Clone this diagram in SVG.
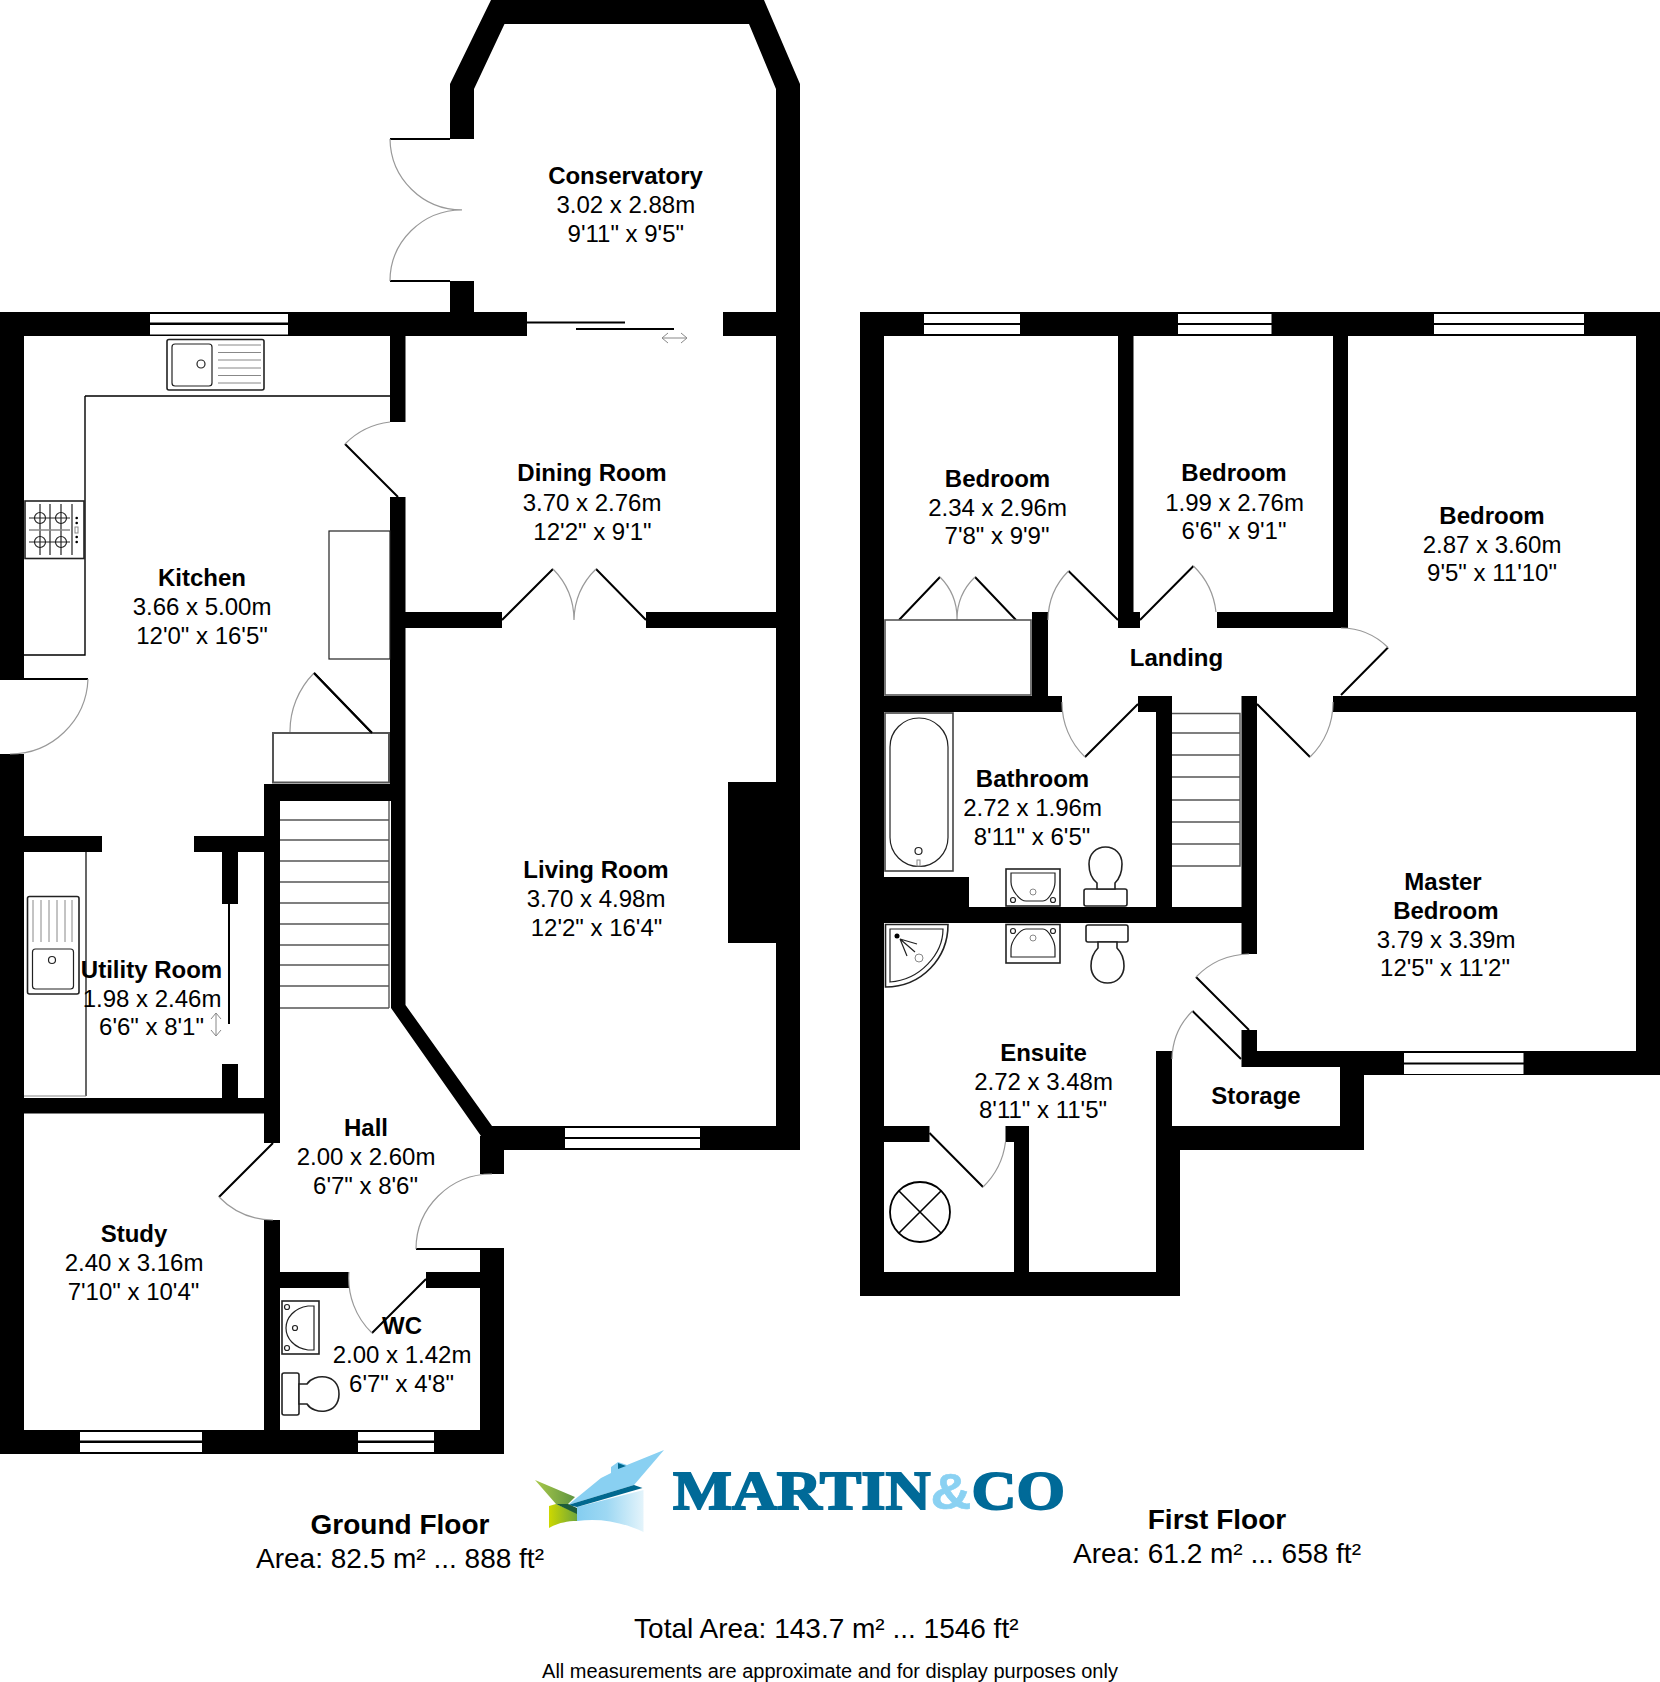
<svg xmlns="http://www.w3.org/2000/svg" width="1660" height="1682" viewBox="0 0 1660 1682">
<defs>
<linearGradient id="lg-blue" x1="0" y1="0" x2="1" y2="0"><stop offset="0" stop-color="#84cdf0"/><stop offset="0.45" stop-color="#9ed8f3"/><stop offset="1" stop-color="#e4f4fb"/></linearGradient>
<linearGradient id="lg-green" x1="0" y1="0" x2="1" y2="0"><stop offset="0" stop-color="#a9c94a"/><stop offset="1" stop-color="#5f9440"/></linearGradient>
<linearGradient id="lg-yellow" x1="0" y1="0" x2="1" y2="0"><stop offset="0" stop-color="#cdd800"/><stop offset="1" stop-color="#6fa63a"/></linearGradient>
</defs>
<style>
text{font-family:"Liberation Sans",Arial,sans-serif;font-size:24px;fill:#000;text-anchor:middle}
.b{font-weight:700}
.ar{font-size:28px}
.w{fill:#000}
.win{fill:#fff}
.leaf{fill:none;stroke:#000;stroke-width:2}
.arc{fill:none;stroke:#999;stroke-width:1.2}
.fx{fill:#fff;stroke:#222;stroke-width:1.6}
.fn{fill:none;stroke:#222;stroke-width:1.2}
.g{fill:none;stroke:#888;stroke-width:1}
</style>
<rect width="1660" height="1682" fill="#fff"/>
<g id="walls-ground">
<path class="w" d="M491 0H764L800 84V1150H492V1126H776V943H728V782H776V628H646V612H776V336H723V312H776V89L749 24H504.500L474 89V139H450V84Z"/>
<path class="w" d="M450 281H474V312H527V336H405.500V422H390V336H24V679H0V312H450Z"/>
<path class="w" d="M390 497H405.500V612H502V628H405.500V1005L492 1126V1136L481 1136V1174H504V1136H481L391 1008V801H280V1143H264V852H238V904H222V852H194V836H264V784H390Z"/>
<path class="w" d="M0 754H24V836H102V852H24V1098H222V1064H238V1098H264V1143H280V1143H264V1113.500H24V1430H264V1220H280V1272H349V1288H280V1430H480V1288H426V1272H480V1248H504V1454H0Z"/>
<rect class="w" x="480" y="1136" width="24" height="38"/>
</g>
<g id="windows-ground" class="win">
<rect x="150" y="314" width="138" height="8.500"/><rect x="150" y="325" width="138" height="9.500"/>
<rect x="565" y="1128" width="135" height="9"/><rect x="565" y="1139" width="135" height="9"/>
<rect x="80" y="1432" width="122" height="8.500"/><rect x="80" y="1443" width="122" height="9"/>
<rect x="358" y="1432" width="76" height="8.500"/><rect x="358" y="1443" width="76" height="9"/>
</g>
<g id="doors-ground">
<path class="leaf" d="M390 139H450M390 281H450M527 322.500H625M576 329H674M345 444L398 497M502 620L553 569M646 620L596 569M0 679H88M314 673L372 733M229 904V1024M273 1143L219 1197M416 1249H480M426 1279L372 1333"/>
<path class="arc" d="M390 139A72 72 0 0 0 462 210M390 281A72 71 0 0 1 462 210M390 422A75 75 0 0 0 345 444M553 569A73 73 0 0 1 574 620M596 569A73 73 0 0 0 574 620M88 679A78 78 0 0 1 10 754M314 673A83 83 0 0 0 290 733M219 1197A76 76 0 0 0 273 1220M416 1249A76 75 0 0 1 492 1174M372 1333A76 76 0 0 1 349 1272"/>
<path class="g" d="M662 338H687M662 338L668 333M662 338L668 343M687 338L681 333M687 338L681 343M216 1013V1036M216 1013L211 1019M216 1013L221 1019M216 1036L211 1030M216 1036L221 1030"/>
</g>
<g id="fixtures-kitchen">
<path class="leaf" d="M85 396H390M85 396V655H24" style="stroke-width:1.4"/>
<rect class="fx" x="167" y="339.500" width="97" height="50.500" rx="2"/>
<rect class="fn" x="172" y="344" width="40" height="42" rx="3"/>
<circle class="fn" cx="201" cy="364" r="4"/>
<path class="g" d="M218 345H261M218 352.500H261M218 360H261M218 368H261M218 375.500H261M218 383H261"/>
<rect class="fx" x="25" y="501" width="59" height="57.500"/>
<g class="fn"><circle cx="40" cy="518" r="5.500"/><circle cx="61" cy="518" r="5.500"/><circle cx="40" cy="542" r="5.500"/><circle cx="61" cy="542" r="5.500"/></g>
<path class="fn" d="M40 504V555M50 504V555M61 504V555M72 504V555M29 518H70M29 542H70"/>
<path d="M29 530H70" fill="none" stroke="#888" stroke-width="1.600"/>
<circle cx="76.700" cy="518" r="1.300"/><circle cx="76.700" cy="523" r="1.300"/><circle cx="76.700" cy="537" r="1.300"/><circle cx="76.700" cy="542" r="1.300"/>
<rect class="g" x="75" y="527" width="3" height="6"/>
<rect x="329" y="531" width="61" height="128" fill="#fff" stroke="#222" stroke-width="1.200"/>
<rect x="273" y="733" width="116" height="49.500" fill="#fff" stroke="#555" stroke-width="2"/>
<path class="leaf" d="M314 673L372 733"/>
<path class="leaf" d="M86 852V1096" style="stroke-width:1.200"/>
<path class="g" d="M24 1096H86"/>
<rect class="fx" x="27.500" y="896.500" width="51.500" height="97.500" rx="2"/>
<rect class="fn" x="32.500" y="949" width="41" height="40" rx="3"/>
<circle class="fn" cx="52" cy="960" r="3.500"/>
<path class="g" d="M33 900V942M41 900V942M49 900V942M57 900V942M65 900V942M72 900V942"/>
</g>
<g id="stairs-ground">
<path fill="none" stroke="#555" stroke-width="1.400" d="M280 820H389M280 840H389M280 861H389M280 882H389M280 903H389M280 924H389M280 945H389M280 965H389M280 986H389M280 1008H389M389 801V1008"/>
</g>
<g id="fixtures-wc">
<rect class="fx" x="282" y="1301" width="37" height="53"/>
<path class="fn" d="M314 1306V1350H308C294 1348 286 1338 286 1328C286 1318 294 1308 308 1306Z"/>
<circle class="fn" cx="295" cy="1328" r="2.500"/><circle class="fn" cx="287" cy="1307" r="2.500"/><circle class="fn" cx="287" cy="1348" r="2.500"/>
<rect class="fx" x="282" y="1373" width="17" height="42" rx="2"/>
<path class="fx" d="M299 1384H307C314 1373 339 1373 339 1394C339 1415 314 1415 307 1404H299Z"/>
</g>
<g id="walls-first">
<path class="w" d="M860 312H1660V1075H1364V1150H1180V1296H860ZM884 336V877H969V907H1156V712H1138V696H1172V907H1241.500V696H1257V954H1241.500V923H884V1126H929.500V1142H884V1272H1014V1142H1005.500V1126H1029V1272H1156V1051H1172V1126H1340V1067H1241.500V1030H1257V1051H1636V712H1333V696H1636V336H1348V628H1217V612H1333V336H1133.500V612H1140V628H1118V336Z" fill-rule="evenodd"/>
<path class="w" d="M884 696H1032V612H1048V696H1062V712H884Z"/>
</g>
<g id="windows-first" class="win">
<rect x="924" y="314" width="96" height="9"/><rect x="924" y="325" width="96" height="9"/>
<rect x="1178" y="314" width="93.500" height="9"/><rect x="1178" y="325" width="93.500" height="9"/>
<rect x="1434" y="314" width="150" height="9"/><rect x="1434" y="325" width="150" height="9"/>
<rect x="1404" y="1053" width="119.500" height="9.500"/><rect x="1404" y="1064.500" width="119.500" height="9.500"/>
</g>
<g id="doors-first">
<path class="leaf" d="M1118 620L1068.500 571M1140 620L1193.500 566M1341 695L1388 647.500M1138 704L1085 757M1257 704L1310 757M899 620L940 577M1016 620L975 577M1249 1030L1196 977M1241 1059L1192.500 1011M929.500 1133L983 1187"/>
<path class="arc" d="M1068.500 571A70 70 0 0 0 1048 620M1193.500 566A76 76 0 0 1 1216 612M1388 647.500A67 67 0 0 0 1341 628M1085 757A75 75 0 0 1 1062 702M1310 757A75 75 0 0 0 1333 702M940 577A59 59 0 0 1 957 620M975 577A59 59 0 0 0 957 620M1196 977A76 76 0 0 1 1249 954M1192.500 1011A69 69 0 0 0 1172 1059M983 1187A76 76 0 0 0 1005.500 1142"/>
</g>
<g id="fixtures-first">
<rect x="885" y="620" width="146" height="75" fill="#fff" stroke="#555" stroke-width="1.600"/>
<rect x="885" y="713" width="68" height="158" fill="#fff" stroke="#444" stroke-width="1.600"/>
<rect class="fn" x="890" y="718" width="58" height="148.500" rx="29"/>
<circle class="fn" cx="918.500" cy="851" r="3.500"/><rect class="g" x="917" y="860" width="3" height="6"/>
<rect class="fx" x="1006" y="869" width="54" height="37"/>
<path class="fn" d="M1011 873H1055V882C1055 890 1048 901 1043 901H1026C1020 901 1011 890 1011 882Z"/>
<circle class="g" cx="1033" cy="892" r="3"/><circle class="fn" cx="1013" cy="900" r="2.500"/><circle class="fn" cx="1053" cy="900" r="2.500"/>
<rect class="fx" x="1084" y="889" width="43" height="17" rx="2"/>
<path class="fx" d="M1097 889V883C1092 879 1089 872 1089 864C1089 854 1096 847 1105.500 847C1115 847 1122 854 1122 864C1122 872 1119 879 1115 883V889Z"/>
<path fill="none" stroke="#555" stroke-width="1.400" d="M1172 713.500H1240V866H1172M1172 733H1240M1172 755H1240M1172 777H1240M1172 800H1240M1172 822H1240M1172 844H1240"/>
<rect class="fx" x="1006" y="924.500" width="54" height="38.500"/>
<path class="fn" d="M1011 957H1055V949C1055 941 1048 929 1043 929H1026C1020 929 1011 941 1011 949Z"/>
<circle class="g" cx="1033" cy="938" r="3"/><circle class="fn" cx="1013" cy="931" r="2.500"/><circle class="fn" cx="1053" cy="931" r="2.500"/>
<rect class="fx" x="1086" y="925" width="42" height="17" rx="2"/>
<path class="fx" d="M1098 942V948C1094 952 1091 958 1091 966C1091 976 1098 983 1107.500 983C1117 983 1124 976 1124 966C1124 958 1121 952 1117 948V942Z"/>
<path class="fx" d="M885.500 924.500H948C948 958 922 987 885.500 987Z"/>
<path class="fn" d="M890 929H943C943 954 920 980 890 982Z"/>
<circle cx="897" cy="936" r="2.500"/>
<path class="fn" d="M900 939L917 944M900 939L907 956M900 939L915 952"/>
<circle class="g" cx="919" cy="958" r="4"/>
<circle cx="920" cy="1212" r="30" fill="#fff" stroke="#000" stroke-width="1.800"/>
<path class="leaf" d="M899 1191L941 1233M941 1191L899 1233" style="stroke-width:1.600"/>
</g>
<g id="logo">
<path fill="url(#lg-blue)" d="M577 1507L643.500 1490V1532C620 1521 598 1518 577 1521Z"/>
<path fill="#89d0f2" d="M568 1505L601 1478L611 1473V1467L618 1462L627 1465L664 1450L634 1485Z"/>
<path fill="#00688f" d="M618 1463L626 1466L618 1469Z"/>
<path fill="#00688f" d="M568 1505L634 1485L642.500 1488L577 1507Z"/>
<path fill="url(#lg-green)" d="M535 1480L575 1497L568 1504H556Z"/>
<path fill="url(#lg-yellow)" d="M549 1506L556 1504L577 1513V1521C565 1521 556 1524 549 1528Z"/>
<path fill="#1d5c3a" d="M556 1504L568 1504L577 1508V1514Z"/>
<text x="869" y="1509" textLength="392" lengthAdjust="spacingAndGlyphs" style="font-family:'Liberation Serif',serif;font-size:55px;font-weight:700;fill:#006a98;stroke:#006a98;stroke-width:1.800">MARTIN<tspan style="font-family:'Liberation Sans',sans-serif;font-size:50px;fill:#8ad1f2;stroke:#8ad1f2;stroke-width:.6">&amp;</tspan>CO</text>
</g>
<g id="labels">
<g id="conservatory"><text class="b" x="625.500" y="183.800">Conservatory</text><text x="625.800" y="213.300">3.02 x 2.88m</text><text x="625.800" y="242">9'11" x 9'5"</text></g>
<g id="dining-room"><text class="b" x="592" y="481.400">Dining Room</text><text x="592" y="510.500">3.70 x 2.76m</text><text x="592.500" y="539.500">12'2" x 9'1"</text></g>
<g id="kitchen"><text class="b" x="202" y="586">Kitchen</text><text x="202" y="614.800">3.66 x 5.00m</text><text x="202" y="643.500">12'0" x 16'5"</text></g>
<g id="utility-room"><text class="b" x="151.500" y="978">Utility Room</text><text x="152" y="1007">1.98 x 2.46m</text><text x="151.500" y="1035">6'6" x 8'1"</text></g>
<g id="living-room"><text class="b" x="596" y="877.500">Living Room</text><text x="596" y="907">3.70 x 4.98m</text><text x="596.500" y="936">12'2" x 16'4"</text></g>
<g id="hall"><text class="b" x="366" y="1136">Hall</text><text x="366" y="1164.800">2.00 x 2.60m</text><text x="365.500" y="1193.500">6'7" x 8'6"</text></g>
<g id="study"><text class="b" x="134" y="1242">Study</text><text x="134" y="1271">2.40 x 3.16m</text><text x="133.500" y="1299.500">7'10" x 10'4"</text></g>
<g id="wc"><text class="b" x="402" y="1334">WC</text><text x="402" y="1363">2.00 x 1.42m</text><text x="401.500" y="1391.500">6'7" x 4'8"</text></g>
<g id="bedroom-1"><text class="b" x="997.500" y="487">Bedroom</text><text x="997.500" y="515.800">2.34 x 2.96m</text><text x="997" y="544">7'8" x 9'9"</text></g>
<g id="bedroom-2"><text class="b" x="1234" y="481">Bedroom</text><text x="1234.500" y="510.500">1.99 x 2.76m</text><text x="1234" y="539">6'6" x 9'1"</text></g>
<g id="bedroom-3"><text class="b" x="1492" y="523.800">Bedroom</text><text x="1492" y="552.800">2.87 x 3.60m</text><text x="1492" y="581">9'5" x 11'10"</text></g>
<g id="landing"><text class="b" x="1176.500" y="666">Landing</text></g>
<g id="bathroom"><text class="b" x="1032.500" y="787">Bathroom</text><text x="1032.500" y="816.300">2.72 x 1.96m</text><text x="1032" y="845">8'11" x 6'5"</text></g>
<g id="master-bedroom"><text class="b" x="1443" y="889.800">Master</text><text class="b" x="1445.800" y="919.300">Bedroom</text><text x="1446" y="948">3.79 x 3.39m</text><text x="1445" y="976">12'5" x 11'2"</text></g>
<g id="ensuite"><text class="b" x="1043.500" y="1061">Ensuite</text><text x="1043.500" y="1089.800">2.72 x 3.48m</text><text x="1043" y="1118">8'11" x 11'5"</text></g>
<g id="storage"><text class="b" x="1256" y="1104">Storage</text></g>
<g id="ground-floor"><text class="b ar" x="400" y="1534">Ground Floor</text><text class="ar" x="400" y="1568">Area: 82.5 m² ... 888 ft²</text></g>
<g id="first-floor"><text class="b ar" x="1217" y="1529">First Floor</text><text class="ar" x="1217" y="1563">Area: 61.2 m² ... 658 ft²</text></g>
<text class="ar" x="826.300" y="1638">Total Area: 143.7 m² ... 1546 ft²</text>
<text x="830" y="1678" style="font-size:20px">All measurements are approximate and for display purposes only</text>
</g>
</svg>
